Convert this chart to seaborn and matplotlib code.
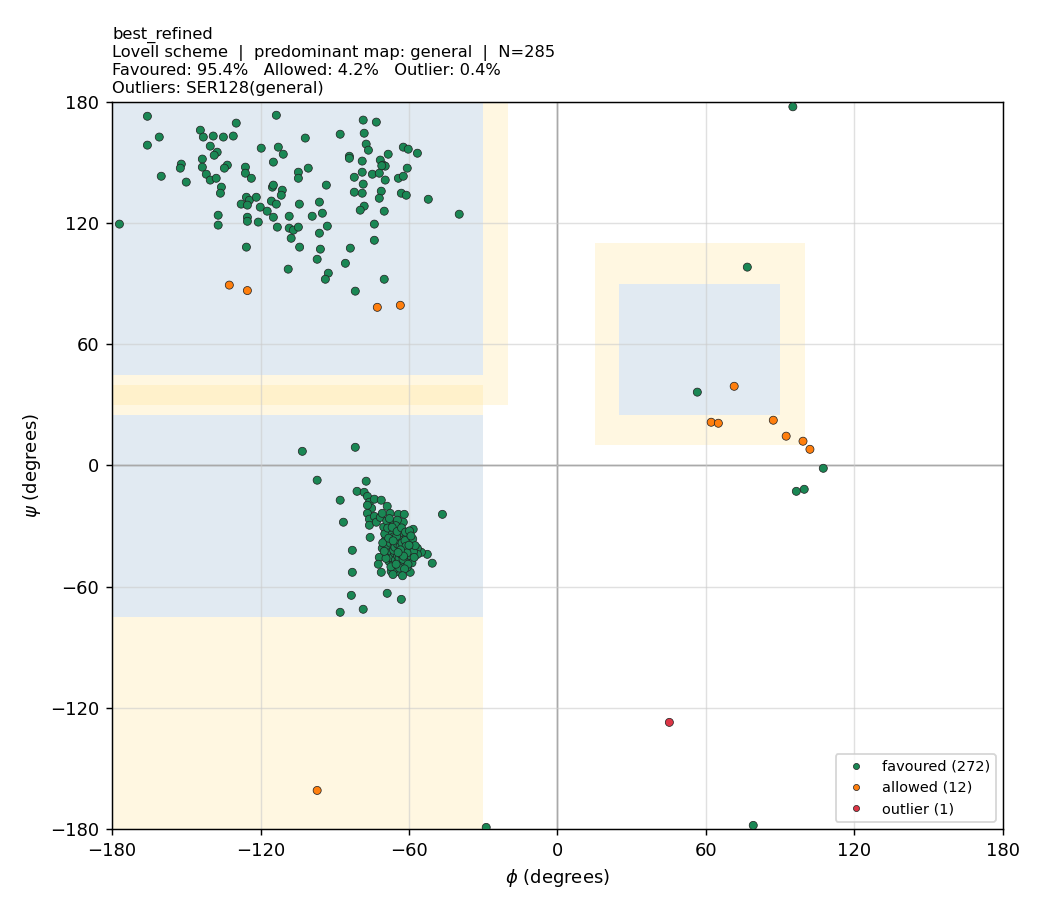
import matplotlib
matplotlib.use("Agg")
import matplotlib.pyplot as plt
from matplotlib.patches import Rectangle
import pandas as pd
import seaborn as sns

# favoured residues, beta / PPII region (phi, psi)
fav_beta = [
    (-165.7, 172.9), (-113.6, 173.4), (-129.8, 169.5), (-144.3, 166.0), (-160.9, 162.6),
    (-143.1, 162.6), (-139.1, 163.1), (-135.0, 162.6), (-131.0, 163.1), (-165.7, 158.6),
    (-119.7, 157.1), (-112.8, 157.6), (-140.3, 158.1), (-137.5, 155.1), (-138.7, 153.6),
    (-110.8, 154.1), (-114.8, 150.2), (-152.0, 149.2), (-152.4, 147.2), (-143.5, 151.7),
    (-143.5, 147.7), (-133.4, 148.7), (-134.6, 147.2), (-160.1, 143.2), (-150.0, 140.3),
    (-141.9, 144.2), (-140.3, 141.3), (-137.9, 142.2), (-126.1, 147.7), (-126.1, 144.7),
    (-123.7, 142.2), (-104.7, 145.2), (-104.7, 142.2), (-135.8, 137.8), (-136.2, 134.8),
    (-115.2, 137.8), (-114.8, 138.8), (-111.2, 136.3), (-111.6, 133.8), (-125.7, 132.8),
    (-124.5, 131.3), (-121.7, 132.8), (-127.8, 129.4), (-125.3, 128.9), (-120.1, 127.9),
    (-115.6, 130.9), (-113.6, 129.4), (-117.3, 125.9), (-114.8, 122.9), (-108.4, 123.4),
    (-104.3, 129.4), (-137.1, 123.9), (-137.1, 119.0), (-125.3, 122.9), (-125.3, 120.9),
    (-120.9, 120.5), (-177.0, 119.5), (-113.2, 118.0), (-108.4, 117.5), (-106.7, 116.5),
    (-104.7, 118.0), (-107.6, 112.5), (-125.7, 108.1), (-104.2, 108.1), (-108.8, 97.2),
    (-78.5, 171.0), (-73.2, 170.0), (-101.9, 162.1), (-87.8, 164.0), (-78.1, 164.5),
    (-77.3, 159.1), (-76.4, 156.1), (-62.3, 157.6), (-60.3, 156.6), (-56.6, 154.6),
    (-68.4, 154.1), (-84.1, 153.1), (-84.1, 152.1), (-78.9, 150.7), (-71.6, 151.2),
    (-70.4, 148.7), (-69.6, 148.2), (-71.0, 148.4), (-60.7, 147.2), (-100.7, 147.2),
    (-78.9, 145.2), (-74.8, 144.2), (-72.0, 144.7), (-82.1, 142.7), (-69.6, 141.3),
    (-64.3, 142.2), (-62.3, 143.2), (-93.4, 138.8), (-78.5, 139.3), (-82.1, 135.3),
    (-78.9, 134.8), (-71.2, 135.8), (-72.0, 132.3), (-63.1, 134.8), (-61.1, 133.8),
    (-52.2, 131.8), (-39.7, 124.4), (-96.2, 130.4), (-95.0, 124.9), (-99.1, 123.4),
    (-78.1, 128.4), (-79.7, 126.4), (-70.0, 125.9), (-93.0, 118.5), (-96.2, 115.0),
    (-74.0, 119.5), (-74.0, 111.5), (-95.8, 107.1), (-83.7, 107.6), (-97.1, 102.1),
    (-85.7, 100.1), (-92.6, 95.2), (-93.8, 92.2), (-70.0, 92.2), (-81.7, 86.3),
]

# favoured residues, right-handed helix region
fav_alpha = [
    (-103.1, 7.0), (-81.7, 9.0), (-97.1, -7.3), (-77.3, -7.8), (-81.0, -12.8),
    (-78.1, -13.3), (-87.8, -17.2), (-76.8, -15.3), (-76.0, -18.2), (-74.0, -16.7),
    (-71.2, -17.2), (-75.1, -21.2), (-76.8, -19.7), (-68.8, -20.2), (-76.8, -23.7),
    (-76.0, -26.6), (-76.0, -29.6), (-74.0, -25.2), (-73.2, -28.1), (-71.6, -25.7),
    (-70.8, -23.7), (-86.5, -28.1), (-46.5, -24.2), (-75.7, -35.6), (-82.9, -42.0),
    (-82.9, -52.9), (-70.8, -41.0), (-72.0, -45.5), (-72.4, -48.9), (-71.2, -52.9),
    (-67.2, -52.4), (-65.5, -50.9), (-83.3, -64.3), (-68.8, -63.3), (-63.1, -66.3),
    (-87.8, -72.7), (-78.5, -71.2), (-50.6, -48.4), (-52.6, -44.0), (-55.0, -43.0),
    (-56.6, -41.0), (-56.6, -44.0), (-58.3, -31.6), (-59.5, -52.9), (-60.7, -50.4),
    (-67.6, -23.7), (-67.2, -28.6), (-64.3, -24.2), (-61.9, -24.2), (-69.6, -34.1),
    (-62.3, -28.1), (-64.7, -27.1), (-64.3, -31.3), (-65.5, -32.1),
    (-70.2, -30.5), (-69.5, -36.8), (-68.9, -40.2), (-68.4, -44.1), (-68.0, -47.6),
    (-67.8, -33.2), (-67.5, -38.5), (-67.1, -42.8), (-66.9, -45.9), (-66.6, -49.3),
    (-66.3, -35.4), (-66.0, -39.9), (-65.8, -43.5), (-65.5, -46.8), (-65.3, -29.8),
    (-65.1, -37.6), (-64.9, -41.2), (-64.7, -44.6), (-64.5, -48.0), (-64.3, -52.6),
    (-64.1, -34.0), (-63.9, -38.9), (-63.7, -42.3), (-63.5, -45.2), (-63.3, -47.4),
    (-63.1, -36.1), (-62.9, -40.4), (-62.7, -43.8), (-62.5, -49.7), (-62.3, -33.5),
    (-62.1, -37.9), (-61.9, -41.6), (-61.7, -45.6), (-61.5, -39.3), (-61.3, -43.0),
    (-61.1, -47.1), (-60.9, -35.2), (-60.7, -41.0), (-60.5, -44.4), (-60.3, -38.2),
    (-60.1, -46.3), (-59.9, -42.1), (-59.6, -37.0), (-59.3, -44.8), (-59.0, -40.6),
    (-58.8, -48.2), (-58.5, -36.4), (-58.2, -42.7), (-57.9, -45.5), (-57.5, -39.7),
    (-69.8, -33.9), (-69.0, -27.4), (-68.6, -31.0), (-67.9, -26.3), (-66.8, -30.6),
    (-66.2, -42.0), (-65.7, -40.5), (-65.0, -35.1), (-64.6, -39.0), (-64.0, -46.0),
    (-63.6, -40.1), (-63.2, -44.0), (-62.8, -38.4), (-62.4, -46.5), (-62.0, -42.9),
    (-61.6, -37.2), (-61.2, -40.0), (-60.8, -43.3), (-60.4, -48.9), (-60.0, -39.5),
    (-65.9, -51.5), (-63.8, -50.8), (-61.8, -51.2), (-67.3, -50.2), (-69.3, -46.0),
    (-70.0, -42.5), (-70.6, -38.3), (-66.5, -54.0), (-62.6, -54.6), (-64.8, -32.7),
    (-63.0, -30.9), (-61.4, -33.0), (-59.8, -32.4), (-59.2, -34.9), (-68.2, -36.0),
    (-66.4, -37.3), (-65.2, -48.9), (-63.4, -41.8), (-62.2, -44.9), (-64.4, -43.1),
]

# favoured residues elsewhere (left-handed helix, edges)
fav_other = [
    (76.7, 98.2), (56.5, 36.3), (107.4, -1.4), (99.7, -11.8), (96.5, -12.8),
    (95.1, 177.6), (-28.8, -179.2), (79.1, -178.2),
]

allowed_pts = [
    (-132.6, 89.3), (-125.3, 86.6), (-72.8, 78.3), (-63.5, 79.3),
    (71.4, 39.2), (62.1, 21.4), (65.0, 20.9), (87.2, 22.4),
    (92.4, 14.5), (99.2, 12.0), (102.0, 8.0), (-97.1, -160.9),
]

outlier_pts = [(45.2, -127.2)]
outlier_names = ["SER128(general)"]

# build table
rows = []
for cls, pts in [("favoured", fav_beta + fav_alpha + fav_other),
                 ("allowed", allowed_pts),
                 ("outlier", outlier_pts)]:
    for phi, psi in pts:
        rows.append({"phi": phi, "psi": psi, "cls": cls})
df = pd.DataFrame(rows)
n_tot = len(df)
counts = df["cls"].value_counts()
df["label"] = df["cls"].map(lambda c: f"{c} ({counts[c]})")

colors = {"favoured": "#1a8754", "allowed": "#ff7f0e", "outlier": "#dc3545"}
hue_order = [f"{c} ({counts[c]})" for c in ["favoured", "allowed", "outlier"]]
palette = {f"{c} ({counts[c]})": colors[c] for c in colors}

fig = plt.figure(figsize=(8, 7), dpi=130)
ax = fig.add_axes([0.1077, 0.089, 0.8567, 0.799])

# Lovell-like region boxes
yellow = "#ffe08a"
blue = "#e1eaf2"
for (x0, x1, y0, y1) in [(-180, -20, 30, 180), (-180, -30, -180, 40), (15, 100, 10, 110)]:
    ax.add_patch(Rectangle((x0, y0), x1 - x0, y1 - y0, facecolor=yellow, alpha=0.25,
                           edgecolor="none", zorder=0.5))
for (x0, x1, y0, y1) in [(-180, -30, 45, 180), (-180, -30, -75, 25), (25, 90, 25, 90)]:
    ax.add_patch(Rectangle((x0, y0), x1 - x0, y1 - y0, facecolor=blue,
                           edgecolor="none", zorder=0.6))

ax.grid(True, color="#cccccc", alpha=0.6, lw=0.8, zorder=0.8)
ax.axhline(0, color="#777777", lw=0.8, zorder=1.5)
ax.axvline(0, color="#777777", lw=0.8, zorder=1.5)

sns.scatterplot(data=df, x="phi", y="psi", hue="label", hue_order=hue_order,
                palette=palette, s=20, edgecolor="#222222", linewidth=0.4,
                ax=ax, zorder=3)

ax.set_xlim(-180, 180)
ax.set_ylim(-180, 180)
ax.set_xticks(range(-180, 181, 60))
ax.set_yticks(range(-180, 181, 60))
ax.set_xlabel(r"$\phi$ (degrees)")
ax.set_ylabel(r"$\psi$ (degrees)")

L = ax.legend(loc="lower right", fontsize=8, markerscale=0.75)

pct = {c: 100.0 * counts[c] / n_tot for c in colors}
title = ("best_refined\n"
         f"Lovell scheme  |  predominant map: general  |  N={n_tot}\n"
         f"Favoured: {pct['favoured']:.1f}%   Allowed: {pct['allowed']:.1f}%   "
         f"Outlier: {pct['outlier']:.1f}%\n"
         "Outliers: " + ", ".join(outlier_names))
ax.set_title(title, loc="left", fontsize=9, linespacing=1.2, pad=5)

fig.savefig("out.png", dpi=130)
